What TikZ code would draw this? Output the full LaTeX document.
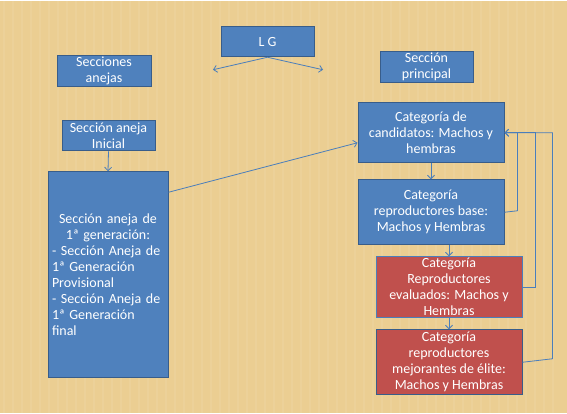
\documentclass[tikz,border=0pt]{standalone}
\usepackage{fontspec}
\setmainfont{Carlito}
\usepackage{xcolor}
\usepackage{tikz}
\usetikzlibrary{positioning,calc,arrows.meta}
\definecolor{paper}{RGB}{235,206,146}
\definecolor{boxblue}{RGB}{79,129,189}
\definecolor{boxedge}{RGB}{56,93,138}
\definecolor{boxred}{RGB}{192,80,77}
\definecolor{linkblue}{RGB}{74,126,187}

\begin{document}
\begin{tikzpicture}[x=1pt,y=-1pt]
\tikzset{
  caja/.style={draw=boxedge,fill=boxblue,line width=1pt,text=white,
    inner sep=0pt,align=center,font=\fontsize{14}{16}\selectfont},
  cajaroja/.style={caja,fill=boxred},
  enlace/.style={draw=linkblue,line width=0.8pt,
    -{Straight Barb[length=3.5pt,width=7pt]}}
}
\pgfmathsetmacro{\wc}{146}

% fondo
\fill[paper] (0,0) rectangle (567,412);
\foreach \i in {4,13,...,560} {
\draw[white,opacity=0.07,line width=1.5pt] (\i,0)--(\i,412);
}

% cabecera
\node[caja,minimum width=93pt,minimum height=30pt] (lg) at (267.5,41) {L G};
\node[caja,minimum width=94pt,minimum height=31pt] (anejas) at (104,70.5)
  {Secciones\\anejas};
\node[caja,minimum width=93pt,minimum height=31pt] (principal) at (426.5,66.5)
  {Sección\\principal};
\coordinate (lgizq) at (213,69);
\coordinate (lgder) at (323,69);
\draw[enlace] (lg.south) -- (lgizq);
\draw[enlace] (lg.south) -- (lgder);

% secciones anejas
\node[caja,minimum width=93pt,minimum height=30pt] (inicial) at (108.5,135)
  {Sección aneja\\Inicial};
\node[caja,minimum width=120pt,minimum height=206pt,text width=112pt,align=left]
  (gen) at (108,274)
  {{\centering Sección aneja de\\1ª generación:\par}
   - Sección Aneja de\\1ª Generación\\Provisional\\- Sección Aneja de\\1ª Generación\\final};
\draw[enlace] (inicial.south) -- (gen.north);

% seccion principal
\node[caja,minimum width=\wc pt,minimum height=60pt] (cand) at (431,132)
  {Categoría de\\candidatos: Machos y\\hembras};
\node[caja,minimum width=\wc pt,minimum height=65pt] (base) at (431,211.5)
  {Categoría\\reproductores base:\\Machos y Hembras};
\node[cajaroja,draw=linkblue,minimum width=\wc pt,minimum height=61pt] (eval)
  at (449,286.5) {Categoría\\Reproductores\\evaluados: Machos y\\Hembras};
\node[cajaroja,minimum width=\wc pt,minimum height=65pt] (mejor) at (449,361.5)
  {Categoría\\reproductores\\mejorantes de élite:\\Machos y Hembras};

\draw[enlace] ($(gen.north east)+(0,21)$) -- ($(cand.west)+(0,10)$);
\draw[enlace] (cand.south) -- (base.north);
\draw[enlace] (base.south -| eval.north) -- (eval.north);
\draw[enlace] (eval.south) -- (mejor.north);

\draw[enlace] (base.east) -- ++(13,-1.5) |- (cand.east);
\draw[enlace] (eval.east) -- ++(13,0) |- (cand.east);
\draw[enlace] (mejor.east) -- ++(30,-3.5) |- (cand.east);
\end{tikzpicture}
\end{document}
